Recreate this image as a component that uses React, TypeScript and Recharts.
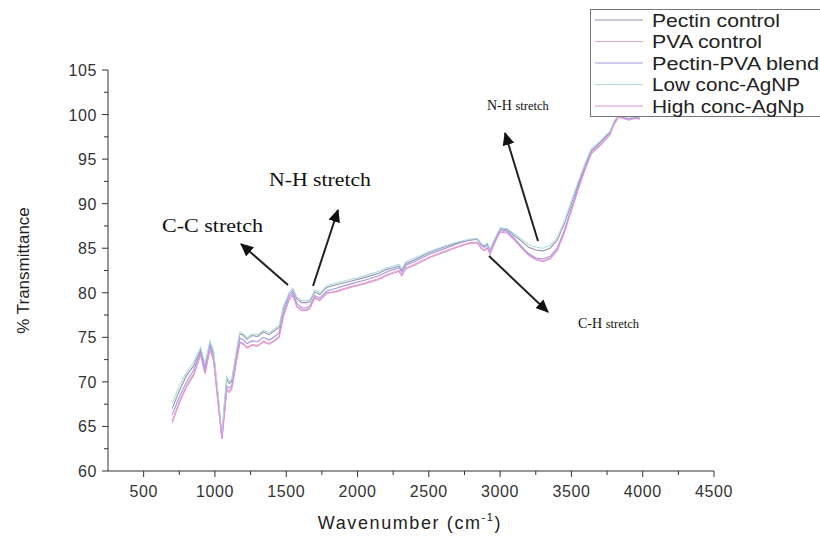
import React from 'react';
import { LineChart, Line, XAxis, YAxis, Legend, Label } from 'recharts';

const wavenumbers = [700, 750, 800, 850, 900, 930, 965, 990, 1020, 1049, 1065, 1083, 1100, 1118, 1150, 1175, 1200, 1225, 1260, 1300, 1340, 1380, 1420, 1450, 1480, 1520, 1546, 1575, 1609, 1640, 1665, 1700, 1735, 1784, 1850, 1950, 2050, 2150, 2200, 2250, 2290, 2310, 2340, 2400, 2500, 2600, 2700, 2780, 2840, 2870, 2890, 2910, 2930, 2960, 3000, 3050, 3100, 3150, 3200, 3250, 3300, 3350, 3400, 3450, 3500, 3550, 3600, 3640, 3660, 3700, 3730, 3770, 3800, 3830, 3860, 3900, 3950, 3980];

const pectinControl = [67.0, 69.0, 70.7, 71.8, 73.6, 71.8, 74.4, 73.3, 68.8, 63.7,
  67.2, 70.3, 69.8, 70.1, 73.3, 75.4, 75.2, 74.8, 75.2, 75.1,
  75.6, 75.3, 75.8, 76.1, 78.3, 79.9, 80.4, 79.3, 78.9, 78.9,
  79.0, 80.1, 79.8, 80.6, 80.9, 81.3, 81.7, 82.2, 82.6, 82.8,
  83.0, 82.5, 83.3, 83.7, 84.5, 85.1, 85.6, 85.9, 86.0, 85.4,
  85.2, 85.5, 84.8, 85.9, 87.2, 87.1, 86.4, 85.8, 85.1, 84.8,
  84.7, 85.0, 85.9, 87.7, 90.0, 92.3, 94.5, 96.0, 96.3, 96.9,
  97.4, 98.0, 99.2, 99.8, 99.7, 99.5, 99.7, 99.6];

const pvaControl = [65.6, 67.8, 69.6, 70.9, 73.1, 71.0, 73.8, 72.6, 68.0, 63.7,
  66.2, 69.2, 69.0, 69.3, 72.3, 74.5, 74.3, 73.9, 74.2, 74.1,
  74.6, 74.3, 74.7, 75.1, 77.4, 79.3, 79.8, 78.5, 78.0, 78.0,
  78.2, 79.4, 79.1, 79.9, 80.2, 80.7, 81.1, 81.6, 82.0, 82.3,
  82.5, 82.0, 82.8, 83.2, 84.0, 84.6, 85.2, 85.6, 85.7, 85.0,
  84.8, 85.1, 84.4, 85.6, 86.9, 86.8, 86.0, 85.1, 84.3, 83.8,
  83.6, 83.9, 84.8, 86.8, 89.3, 91.8, 94.1, 95.7, 96.0, 96.6,
  97.1, 97.8, 99.0, 99.7, 99.6, 99.4, 99.6, 99.5];

const pectinPvaBlend = [66.3, 68.3, 70.0, 71.3, 73.4, 71.4, 74.1, 72.9, 68.3, 63.6,
  66.5, 69.5, 69.3, 69.6, 72.6, 74.9, 74.7, 74.3, 74.6, 74.5,
  75.0, 74.7, 75.1, 75.5, 77.8, 79.6, 80.1, 78.8, 78.3, 78.3,
  78.5, 79.7, 79.4, 80.2, 80.5, 81.0, 81.4, 81.9, 82.3, 82.6,
  82.8, 82.3, 83.1, 83.5, 84.3, 84.9, 85.5, 85.9, 86.0, 85.3,
  85.1, 85.4, 84.7, 85.8, 87.1, 86.9, 86.1, 85.2, 84.4, 83.9,
  83.8, 84.1, 85.0, 87.0, 89.5, 92.0, 94.3, 95.9, 96.2, 96.8,
  97.3, 97.9, 99.1, 99.8, 99.7, 99.5, 99.7, 99.6];

const lowConcAgNP = [67.6, 69.5, 71.1, 72.2, 73.9, 72.0, 74.6, 73.5, 69.0, 63.8,
  67.5, 70.6, 70.0, 70.3, 73.5, 75.6, 75.4, 75.0, 75.4, 75.3,
  75.8, 75.5, 76.0, 76.3, 78.5, 80.0, 80.5, 79.5, 79.1, 79.1,
  79.2, 80.3, 80.0, 80.8, 81.1, 81.5, 81.9, 82.4, 82.8, 83.0,
  83.2, 82.7, 83.5, 83.9, 84.6, 85.2, 85.7, 86.0, 86.1, 85.5,
  85.3, 85.6, 84.9, 86.0, 87.3, 87.2, 86.6, 86.0, 85.4, 85.1,
  85.0, 85.3, 86.2, 88.0, 90.3, 92.6, 94.7, 96.2, 96.4, 97.0,
  97.5, 98.1, 99.3, 99.9, 99.8, 99.6, 99.8, 99.7];

const highConcAgNp = [65.4, 67.6, 69.4, 70.7, 73.0, 70.9, 73.6, 72.4, 67.8, 63.6,
  66.0, 69.0, 68.8, 69.2, 72.2, 74.4, 74.2, 73.8, 74.1, 74.0,
  74.5, 74.2, 74.6, 75.0, 77.3, 79.2, 79.7, 78.4, 78.1, 78.1,
  78.3, 79.5, 79.2, 80.0, 80.1, 80.6, 81.0, 81.5, 81.9, 82.2,
  82.4, 81.9, 82.7, 83.1, 83.9, 84.5, 85.1, 85.5, 85.6, 84.9,
  84.7, 85.0, 84.3, 85.5, 86.8, 86.7, 85.9, 85.0, 84.2, 83.7,
  83.5, 83.8, 84.7, 86.7, 89.2, 91.7, 94.0, 95.6, 95.9, 96.5,
  97.0, 97.7, 98.9, 99.7, 99.6, 99.4, 99.6, 99.5];

const seriesNames = ['Pectin control', 'PVA control', 'Pectin-PVA blend', 'Low conc-AgNP', 'High conc-AgNp'];
const seriesKeys = ['pectin', 'pva', 'blend', 'low', 'high'];
const seriesColors = ['#9397ae', '#dfa9ba', '#a396e4', '#b2dcdc', '#e394de'];
const legendTextWidths = [128, 110, 167, 148, 152];

const xTicks = [500, 750, 1000, 1250, 1500, 1750, 2000, 2250, 2500, 2750, 3000, 3250, 3500, 3750, 4000, 4250, 4500];
const yTicks = [60, 62.5, 65, 67.5, 70, 72.5, 75, 77.5, 80, 82.5, 85, 87.5, 90, 92.5, 95, 97.5, 100, 102.5, 105];

const seriesValues = [pectinControl, pvaControl, pectinPvaBlend, lowConcAgNP, highConcAgNp];
const data = wavenumbers.map((w, i) => {
  const row: Record<string, number> = { w };
  seriesKeys.forEach((k, j) => { row[k] = seriesValues[j][i]; });
  return row;
});

const AXIS_FONT = '"Liberation Sans", Arial, sans-serif';
const SERIF = '"Liberation Serif", "Times New Roman", serif';

const XTick = (props: any) => {
  const { x, y, payload } = props;
  const major = payload.value % 500 === 0;
  return (
    <g>
      <line x1={x} x2={x} y1={y} y2={y + (major ? 6 : 4)} stroke="#333" strokeWidth={1} />
      {major && (
        <text x={x} y={y + 26} textAnchor="middle" fontSize={16} fill="#333" fontFamily={AXIS_FONT} letterSpacing={0.6}>
          {payload.value}
        </text>
      )}
    </g>
  );
};

const YTick = (props: any) => {
  const { x, y, payload } = props;
  const major = payload.value % 5 === 0;
  return (
    <g>
      <line x1={x} x2={x - (major ? 6 : 4)} y1={y} y2={y} stroke="#333" strokeWidth={1} />
      {major && (
        <text x={x - 11} y={y + 6} textAnchor="end" fontSize={16} fill="#333" fontFamily={AXIS_FONT} letterSpacing={0.6}>
          {payload.value}
        </text>
      )}
    </g>
  );
};

const LegendBox = () => (
  <svg width={240} height={110} style={{ display: 'block' }}>
    <rect x={0.5} y={0.5} width={260} height={107} fill="#fff" stroke="#777" strokeWidth={1} />
    {seriesNames.map((name, i) => {
      const cy = 11 + i * 21.5;
      return (
        <g key={name}>
          <line x1={5} x2={53} y1={cy} y2={cy} stroke={seriesColors[i]} strokeWidth={1.2} />
          <text x={62} y={cy + 6.5} fontSize={18} fill="#222" fontFamily={AXIS_FONT}
            textLength={legendTextWidths[i]} lengthAdjust="spacingAndGlyphs">
            {name}
          </text>
        </g>
      );
    })}
  </svg>
);

const Annotations = () => (
  <svg width={820} height={537} style={{ position: 'absolute', left: 0, top: 0, pointerEvents: 'none' }}>
    <defs>
      <marker id="ah" markerWidth={14} markerHeight={12} refX={12} refY={6} orient="auto" markerUnits="userSpaceOnUse">
        <path d="M0,0 L13,6 L0,12 Z" fill="#111" />
      </marker>
    </defs>
    <g stroke="#222" strokeWidth={2} fill="none">
      <line x1={288} y1={285} x2={241} y2={244} markerEnd="url(#ah)" />
      <line x1={313} y1={286} x2={338} y2={210} markerEnd="url(#ah)" />
      <line x1={538} y1={241} x2={505} y2={133} markerEnd="url(#ah)" />
      <line x1={489} y1={256} x2={548} y2={312} markerEnd="url(#ah)" />
    </g>
    <g fontFamily={SERIF} fill="#111">
      <text x={162} y={232} fontSize={18} textLength={101} lengthAdjust="spacingAndGlyphs">C-C stretch</text>
      <text x={269} y={186} fontSize={18} textLength={102} lengthAdjust="spacingAndGlyphs">N-H stretch</text>
      <text x={487} y={110} fontSize={14}>
        <tspan>N-H </tspan><tspan fontSize={12.5}>stretch</tspan>
      </text>
      <text x={578} y={328} fontSize={14}>
        <tspan>C-H </tspan><tspan fontSize={12.5}>stretch</tspan>
      </text>
    </g>
  </svg>
);

export default function App() {
  return (
    <div style={{ position: 'absolute', left: 0, top: 0, width: 820, height: 537, background: '#fff' }}>
      <LineChart width={820} height={537} data={data} margin={{ top: 70, right: 106, left: 48, bottom: 6 }}>
        <XAxis
          dataKey="w"
          type="number"
          domain={[250, 4500]}
          ticks={xTicks}
          interval={0}
          tick={<XTick />}
          tickSize={0}
          tickMargin={0}
          tickLine={false}
          height={60}
          stroke="#333"
          allowDataOverflow
        >
          <Label
            content={(p: any) => {
              const vb = p.viewBox || { x: 108, width: 606, y: 471 };
              return (
                <text x={vb.x + vb.width / 2 - 1} y={vb.y + 58} textAnchor="middle" fontSize={18} fill="#222" fontFamily={AXIS_FONT} letterSpacing={1.6}>
                  Wavenumber (cm<tspan dy={-8} fontSize={11}>-1</tspan><tspan dy={8}>)</tspan>
                </text>
              );
            }}
          />
        </XAxis>
        <YAxis
          type="number"
          domain={[60, 105]}
          ticks={yTicks}
          interval={0}
          tick={<YTick />}
          tickSize={0}
          tickMargin={0}
          tickLine={false}
          width={60}
          stroke="#333"
          allowDataOverflow
        >
          <Label
            content={(p: any) => {
              const vb = p.viewBox || { x: 48, y: 70, height: 401 };
              const cx = 25;
              const cy = vb.y + vb.height / 2;
              return (
                <text x={cx} y={cy} transform={`rotate(-90, ${cx}, ${cy})`} textAnchor="middle" dominantBaseline="middle" fontSize={17} fill="#222" fontFamily={AXIS_FONT}>
                  % Transmittance
                </text>
              );
            }}
          />
        </YAxis>
        {seriesKeys.map((k, i) => (
          <Line
            key={k}
            dataKey={k}
            name={seriesNames[i]}
            stroke={seriesColors[i]}
            strokeWidth={1.1}
            dot={false}
            activeDot={false}
            type="linear"
            isAnimationActive={false}
          />
        ))}
        <Legend
          layout="vertical"
          align="center"
          verticalAlign="middle"
          content={<LegendBox />}
          wrapperStyle={{ position: 'absolute', left: 590, top: 9, width: 240, height: 110, right: 'auto', bottom: 'auto' }}
        />
      </LineChart>
      <Annotations />
    </div>
  );
}
